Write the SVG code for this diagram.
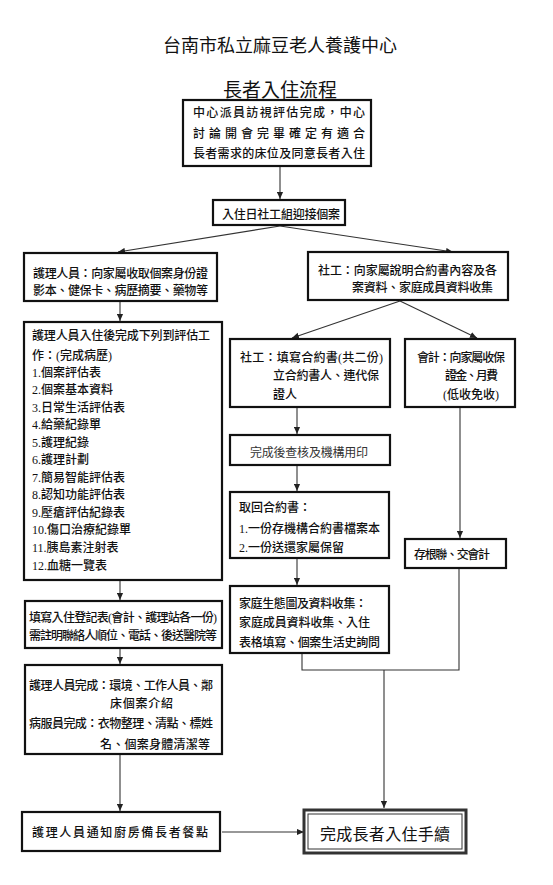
<svg xmlns="http://www.w3.org/2000/svg" width="553" height="885" viewBox="0 0 553 885">
<style>
text{font-family:"Liberation Serif","Noto Sans CJK TC",serif;fill:#111;font-size:12px;font-weight:500}
.t1{font-size:18px;font-weight:400}
.t2{font-size:19px;font-weight:400}
.lite{font-weight:400;fill:#333}
.bx{fill:#fff;stroke:#111;stroke-width:2.2}
.ln{fill:none;stroke:#333;stroke-width:1.1}
.big{font-size:16px;font-weight:400}
</style>
<defs>
<marker id="ah" viewBox="0 0 8 8" refX="8" refY="4" markerWidth="7" markerHeight="7" markerUnits="userSpaceOnUse" orient="auto">
<path d="M0,0.5 L8,4 L0,7.5 z" fill="#222"/>
</marker>
</defs>
<rect width="553" height="885" fill="#fff"/>
<g id="title">
<text class="t1" x="280" y="52" text-anchor="middle" textLength="234">台南市私立麻豆老人養護中心</text>
<text class="t2" x="280" y="97" text-anchor="middle">長者入住流程</text>
</g>
<g id="connectors">
<path class="ln" d="M280,167 V199" marker-end="url(#ah)"/>
<path class="ln" d="M280,226 L118,252" marker-end="url(#ah)"/>
<path class="ln" d="M280,226 L453,252" marker-end="url(#ah)"/>
<path class="ln" d="M120,302 V321" marker-end="url(#ah)"/>
<path class="ln" d="M400,301 L292,338" marker-end="url(#ah)"/>
<path class="ln" d="M400,301 L477,338" marker-end="url(#ah)"/>
<path class="ln" d="M297,407 V434" marker-end="url(#ah)"/>
<path class="ln" d="M297,465 V491" marker-end="url(#ah)"/>
<path class="ln" d="M460,407 V538" marker-end="url(#ah)"/>
<path class="ln" d="M297,558 V585" marker-end="url(#ah)"/>
<path class="ln" d="M302,653 V670 H459 V568"/>
<path class="ln" d="M384,670 V808" marker-end="url(#ah)"/>
<path class="ln" d="M120,580 V600" marker-end="url(#ah)"/>
<path class="ln" d="M120,648 V664" marker-end="url(#ah)"/>
<path class="ln" d="M120,754 V811" marker-end="url(#ah)"/>
<path class="ln" d="M222,832 H304" marker-end="url(#ah)"/>
</g>
<g id="n1">
<rect class="bx" x="183" y="100" width="188" height="66" stroke-width="2.8"/>
<text x="193" y="116.5" textLength="172">中心派員訪視評估完成，中心</text>
<text x="193" y="137.5" textLength="172">討論開會完畢確定有適合</text>
<text x="193" y="157.5" textLength="172">長者需求的床位及同意長者入住</text>
</g>
<g id="n2">
<rect class="bx" x="213" y="200" width="132" height="25"/>
<text x="281" y="219" text-anchor="middle" textLength="118">入住日社工組迎接個案</text>
</g>
<g id="n3">
<rect class="bx" x="24" y="253" width="193" height="48"/>
<text x="33" y="277.5" textLength="175">護理人員：向家屬收取個案身份證</text>
<text x="33" y="294.5" textLength="175">影本、健保卡、病歷摘要、藥物等</text>
</g>
<g id="n4">
<rect class="bx" x="308" y="252" width="200" height="48"/>
<text x="318" y="274.5" textLength="179">社工：向家屬說明合約書內容及各</text>
<text x="352" y="291.5" textLength="141">案資料、家庭成員資料收集</text>
</g>
<g id="n5">
<rect class="bx" x="24" y="322" width="198" height="258"/>
<text x="32" y="339.5" textLength="178">護理人員入住後完成下列到評估工</text>
<text x="32" y="359.5">作：(完成病歷)</text>
<text x="32" y="376.5">1.個案評估表</text>
<text x="32" y="394">2.個案基本資料</text>
<text x="32" y="411.5">3.日常生活評估表</text>
<text x="32" y="429">4.給藥紀錄單</text>
<text x="32" y="446.5">5.護理紀錄</text>
<text x="32" y="464">6.護理計劃</text>
<text x="32" y="481.5">7.簡易智能評估表</text>
<text x="32" y="499">8.認知功能評估表</text>
<text x="32" y="516.5">9.壓瘡評估紀錄表</text>
<text x="32" y="534">10.傷口治療紀錄單</text>
<text x="32" y="551.5">11.胰島素注射表</text>
<text x="32" y="569.5">12.血糖一覽表</text>
</g>
<g id="n6">
<rect class="bx" x="230" y="339" width="160" height="68"/>
<text x="240" y="361.5" textLength="143">社工：填寫合約書(共二份)</text>
<text x="273" y="379.5" textLength="106">立合約書人、連代保</text>
<text x="273" y="398.5">證人</text>
</g>
<g id="n7">
<rect class="bx" x="405" y="339" width="110" height="68"/>
<text x="417" y="361.5" textLength="88">會計：向家屬收保</text>
<text x="445" y="379.5" textLength="53">證金、月費</text>
<text x="443" y="398.5">(低收免收)</text>
</g>
<g id="n8">
<rect class="bx" x="230" y="435" width="160" height="30"/>
<text class="lite" x="309" y="456.5" text-anchor="middle" textLength="118">完成後查核及機構用印</text>
</g>
<g id="n9">
<rect class="bx" x="230" y="492" width="159" height="66"/>
<text x="239" y="511.5">取回合約書：</text>
<text x="239" y="532.5">1.一份存機構合約書檔案本</text>
<text x="239" y="551.5">2.一份送還家屬保留</text>
</g>
<g id="n10">
<rect class="bx" x="405" y="539" width="101" height="29"/>
<text x="452" y="559" text-anchor="middle" textLength="76">存根聯、交會計</text>
</g>
<g id="n11">
<rect class="bx" x="230" y="586" width="159" height="67"/>
<text x="239" y="607.5" textLength="128">家庭生態圖及資料收集：</text>
<text x="239" y="626.5" textLength="131">家庭成員資料收集、入住</text>
<text x="239" y="646.5" textLength="141">表格填寫、個案生活史詢問</text>
</g>
<g id="n12">
<rect class="bx" x="25" y="601" width="197" height="47"/>
<text x="29" y="621.5" textLength="188">填寫入住登記表(會計、護理站各一份)</text>
<text x="29" y="639.5" textLength="188">需註明聯絡人順位、電話、後送醫院等</text>
</g>
<g id="n13">
<rect class="bx" x="25" y="665" width="197" height="89"/>
<text x="29" y="689.5" textLength="184">護理人員完成：環境、工作人員、鄰</text>
<text x="110" y="707.5" textLength="63">床個案介紹</text>
<text x="29" y="727.5" textLength="184">病服員完成：衣物整理、清點、標姓</text>
<text x="100" y="748.5" textLength="110">名、個案身體清潔等</text>
</g>
<g id="n14">
<rect class="bx" x="22" y="812" width="198" height="39"/>
<text x="32" y="836.5" textLength="176">護理人員通知廚房備長者餐點</text>
</g>
<g id="n15">
<rect x="304" y="810" width="162" height="43" fill="#fff" stroke="#333" stroke-width="3"/>
<rect x="308" y="814" width="154" height="35" fill="none" stroke="#333" stroke-width="1"/>
<text class="big" x="385" y="839.5" text-anchor="middle" textLength="130">完成長者入住手續</text>
</g>
</svg>
